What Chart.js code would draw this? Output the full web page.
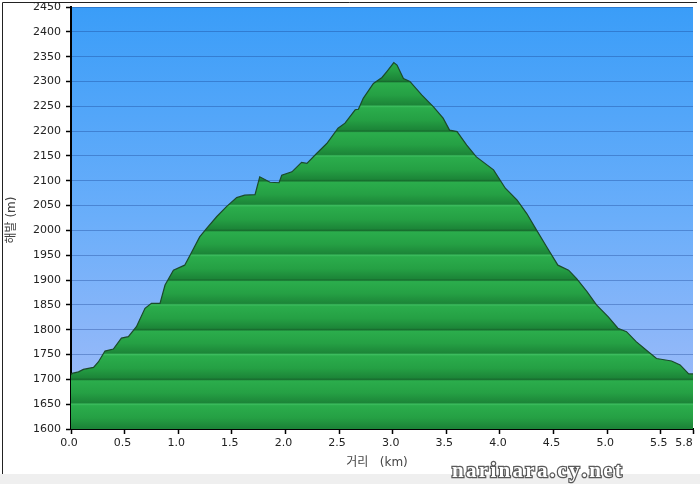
<!DOCTYPE html>
<html>
<head>
<meta charset="utf-8">
<script src="https://cdn.jsdelivr.net/npm/chart.js@4"></script>
<style>
  html, body { margin: 0; padding: 0; background: #fff; }
  canvas { display: block; }
</style>
</head>
<body>
<canvas id="elevChart" width="700" height="484"></canvas>
<script>
// distance (km) and elevation (m)
const distKm = [0.0, 0.01, 0.07, 0.115, 0.21, 0.255, 0.317, 0.395, 0.47, 0.535, 0.61, 0.69, 0.75, 0.83, 0.877, 0.955,
  1.06, 1.11, 1.2, 1.265, 1.36, 1.45, 1.545, 1.62, 1.716, 1.76, 1.856, 1.94, 1.965, 2.06, 2.15, 2.2, 2.29, 2.385,
  2.49, 2.555, 2.65, 2.68, 2.725, 2.82, 2.9, 2.945, 3.01, 3.04, 3.1, 3.16, 3.27, 3.38, 3.47, 3.53, 3.6, 3.69, 3.78,
  3.94, 4.05, 4.16, 4.25, 4.34, 4.435, 4.54, 4.64, 4.715, 4.81, 4.9, 5.01, 5.1, 5.18, 5.27, 5.38, 5.46, 5.6, 5.68,
  5.76, 5.8];
const elevM = [1709, 1712, 1715, 1720, 1724, 1735, 1757, 1761, 1783, 1786, 1806, 1843, 1853, 1853, 1890, 1920,
  1930, 1950, 1987, 2004, 2028, 2048, 2066, 2071, 2072, 2108, 2097, 2096, 2111, 2118, 2137, 2135, 2155, 2175,
  2206, 2216, 2243, 2244, 2266, 2296, 2308, 2320, 2338, 2333, 2306, 2300, 2273, 2249, 2226, 2202, 2199, 2172, 2148,
  2122, 2085, 2061, 2034, 2001, 1967, 1930, 1920, 1903, 1877, 1850, 1826, 1803, 1796, 1776, 1756, 1742, 1737, 1729,
  1711, 1711];
const xTicks = [0, 0.5, 1, 1.5, 2, 2.5, 3, 3.5, 4, 4.5, 5, 5.5, 5.8];
const yMin = 1600, yMax = 2450, yStep = 50;

const points = distKm.map((d, i) => ({ x: d, y: elevM[i] }));

// banded green fill, one band per 50 m
function greenFill(context) {
  const chart = context.chart;
  const area = chart.chartArea;
  if (!area) return '#22a045';
  const ys = chart.scales.y;
  const g = chart.ctx.createLinearGradient(0, area.top, 0, area.bottom);
  const span = area.bottom - area.top;
  const f = p => Math.min(1, Math.max(0, (p - area.top) / span));
  for (let v = yMax; v > yMin; v -= yStep) {
    const top = ys.getPixelForValue(v), bot = ys.getPixelForValue(v - yStep);
    const dark = v % 100 === 0;
    g.addColorStop(f(top), dark ? '#176a2d' : '#3cbd5e');
    g.addColorStop(f(top + 1.5), '#2bad4c');
    g.addColorStop(f(top + (bot - top) * 0.55), '#25a044');
    g.addColorStop(f(bot - 1.5), '#1c8538');
  }
  return g;
}

const framePlugin = {
  id: 'frame',
  beforeDraw(chart) {
    const { ctx, chartArea: a } = chart;
    ctx.save();
    ctx.fillStyle = '#fff';
    ctx.fillRect(0, 0, chart.width, chart.height);
    ctx.fillStyle = '#efefef';
    ctx.fillRect(0, 474, chart.width, chart.height - 474);
    ctx.strokeStyle = '#222';
    ctx.lineWidth = 1;
    ctx.beginPath();
    ctx.moveTo(2.5, 474); ctx.lineTo(2.5, 2.5); ctx.lineTo(697, 2.5);
    ctx.stroke();
    const bg = ctx.createLinearGradient(0, a.top, 0, a.bottom);
    bg.addColorStop(0, '#3a9df8');
    bg.addColorStop(0.5, '#6aaefa');
    bg.addColorStop(1, '#a6bdf8');
    ctx.fillStyle = bg;
    ctx.fillRect(a.left, a.top, a.right - a.left, a.bottom - a.top);
    ctx.restore();
  },
  afterDraw(chart) {
    const { ctx } = chart;
    ctx.save();
    ctx.fillStyle = '#444';
    ctx.font = '12px "DejaVu Sans", "Noto Sans CJK KR", sans-serif';
    ctx.textAlign = 'center';
    ctx.textBaseline = 'middle';
    ctx.fillText('거리   (km)', 377, 463);
    ctx.translate(12, 220);
    ctx.rotate(-Math.PI / 2);
    ctx.fillText('해발 (m)', 0, 0);
    ctx.restore();

    // watermark
    ctx.save();
    ctx.font = 'bold 21px "Liberation Serif", serif';
    ctx.textAlign = 'left';
    ctx.textBaseline = 'alphabetic';
    ctx.lineWidth = 2.5;
    ctx.strokeStyle = 'rgba(50,50,50,0.8)';
    ctx.fillStyle = '#fff';
    let x = 452;
    for (const ch of 'narinara.cy.net') {
      ctx.strokeText(ch, x, 477);
      ctx.fillText(ch, x, 477);
      x += ctx.measureText(ch).width + 2.3;
    }
    ctx.restore();
  }
};

new Chart(document.getElementById('elevChart').getContext('2d'), {
  type: 'line',
  data: {
    datasets: [{
      data: points,
      fill: 'start',
      backgroundColor: greenFill,
      borderColor: '#1b4a2a',
      borderWidth: 1.2,
      pointRadius: 0,
      tension: 0
    }]
  },
  options: {
    responsive: false,
    animation: false,
    layout: { padding: { left: 0, top: 7, right: 7, bottom: 0 } },
    plugins: { legend: { display: false }, tooltip: { enabled: false } },
    scales: {
      x: {
        type: 'linear',
        min: 0,
        max: 5.8,
        afterBuildTicks: s => { s.ticks = xTicks.map(v => ({ value: v })); },
        afterFit: s => { s.height = 55; s.paddingLeft = 0; s.paddingRight = 0; },
        ticks: {
          autoSkip: false,
          maxRotation: 0,
          padding: 3,
          labelOffset: -2,
          color: '#222',
          font: { family: '"DejaVu Sans", sans-serif', size: 11 },
          // last label sits left of its tick, as in the original
          callback: v => v === 5.8 ? '5.8\u00a0\u00a0\u00a0\u00a0' : Number(v).toFixed(1)
        },
        grid: { drawOnChartArea: false, tickLength: 5, tickColor: '#000', tickWidth: 1.5 },
        border: { color: '#000', width: 2 }
      },
      y: {
        min: yMin,
        max: yMax,
        ticks: {
          stepSize: yStep,
          padding: 5,
          color: '#222',
          font: { family: '"DejaVu Sans", sans-serif', size: 11 },
          callback: v => String(v)
        },
        afterFit: s => { s.width = 71; s.paddingTop = 0; s.paddingBottom = 0; },
        grid: {
          color: 'rgba(20,60,140,0.35)',
          lineWidth: 1,
          tickLength: 5,
          tickColor: '#000',
          tickWidth: 1.5
        },
        border: { color: '#000', width: 2 }
      }
    }
  },
  plugins: [framePlugin]
});
</script>
</body>
</html>
